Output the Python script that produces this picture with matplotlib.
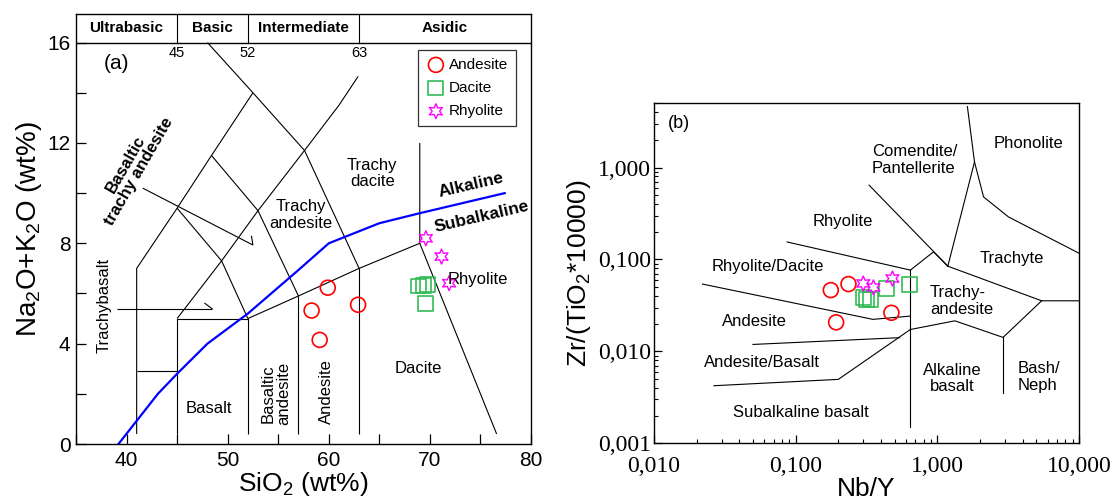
import matplotlib
matplotlib.use("Agg")
import matplotlib.pyplot as plt
from matplotlib.ticker import FixedLocator, FixedFormatter, LogLocator, NullFormatter

# ---------------- data: panel (a) TAS ----------------
andesite_sio2 = [59.9, 58.3, 62.9, 59.1]
andesite_alk = [6.23, 5.32, 5.55, 4.15]
dacite_sio2 = [68.9, 69.35, 69.8, 69.6]
dacite_alk = [6.30, 6.33, 6.37, 5.61]
rhyolite_sio2 = [69.6, 71.15, 71.9]
rhyolite_alk = [8.2, 7.47, 6.41]

tas_lines = [
    [(41, 0.4), (41, 7), (45, 9.4), (48.4, 11.5), (52.5, 14)],
    [(48, 16), (52.5, 14), (57.6, 11.7), (63, 7)],
    [(45, 0.4), (45, 5), (52, 5), (52, 0.4)],
    [(41, 2.9), (45, 2.9)],
    [(52, 5), (57, 5.9), (63, 7), (69, 8)],
    [(57, 0.4), (57, 5.9)],
    [(63, 0.4), (63, 7)],
    [(69, 12), (69, 8), (76.6, 0.4)],
    [(45, 5), (49.4, 7.3), (53, 9.3), (57.6, 11.7), (61, 13.5), (62.9, 14.65)],
    [(45, 9.4), (49.4, 7.3), (52, 5)],
    [(48.4, 11.5), (53, 9.3), (57, 5.9)],
    # arrows
    [(39.1, 5.38), (48.5, 5.38)],
    [(47.7, 5.62), (48.5, 5.38)],
    [(41.6, 10.2), (52.5, 7.93)],
    [(52.35, 8.3), (52.5, 7.93)],
]
alk_line_x = [39.2, 43.1, 45, 48, 52, 56.9, 60, 65, 69, 77.4]
alk_line_y = [0.0, 2.0, 2.8, 4.0, 5.2, 6.9, 8.0, 8.8, 9.2, 10.0]

header_bounds = [45, 52, 63]
header_names = ["Ultrabasic", "Basic", "Intermediate", "Asidic"]
header_name_x = [40.0, 48.5, 57.5, 71.5]

# ---------------- data: panel (b) Winchester & Floyd ----------------
andesite_nby = [0.177, 0.236, 0.474, 0.193]
andesite_zr = [0.0464, 0.054, 0.0263, 0.0207]
dacite_nby = [0.30, 0.315, 0.336, 0.435, 0.637]
dacite_zr = [0.039, 0.0368, 0.037, 0.0484, 0.0535]
rhyolite_nby = [0.30, 0.354, 0.482]
rhyolite_zr = [0.0548, 0.0497, 0.0621]

wf_lines = [
    [(0.0871, 0.155), (0.645, 0.0766)],
    [(0.645, 0.0766), (0.94, 0.121), (1.186, 0.0845)],
    [(0.33, 0.643), (1.186, 0.0845)],
    [(1.186, 0.0845), (1.83, 1.15), (1.63, 4.6)],
    [(1.83, 1.15), (2.12, 0.479), (3.18, 0.29), (10, 0.117)],
    [(1.186, 0.0845), (5.45, 0.0355), (10, 0.0355)],
    [(0.022, 0.054), (0.351, 0.0223), (0.645, 0.0242)],
    [(0.645, 0.0766), (0.645, 0.0015)],
    [(5.45, 0.0355), (2.91, 0.0142), (1.33, 0.0215), (0.645, 0.0173)],
    [(2.91, 0.0142), (2.91, 0.0035)],
    [(0.05, 0.0119), (0.542, 0.0141)],
    [(0.0265, 0.00423), (0.2, 0.00496), (0.645, 0.0173)],
]
b_xticks = [0.01, 0.1, 1, 10]
b_xticklabels = ["0,010", "0,100", "1,000", "10,000"]
b_yticks = [0.001, 0.01, 0.1, 1]
b_yticklabels = ["0,001", "0,010", "0,100", "1,000"]

SANS = ["Liberation Sans", "DejaVu Sans"]
SERIF = ["Liberation Serif", "DejaVu Serif"]
plt.rcParams['font.family'] = SANS
plt.rcParams['mathtext.fontset'] = 'custom'
plt.rcParams['mathtext.rm'] = 'Liberation Sans'
plt.rcParams['mathtext.it'] = 'Liberation Sans:italic'

fig = plt.figure(figsize=(11.2, 5.0), dpi=100)

RED = "#FF0000"
GREEN = "#33BB55"
MAG = "#FF00FF"
star = (6, 1, 0)

# ================= panel (a) =================
ax = fig.add_axes([76 / 1120, 56 / 500, 455 / 1120, 430.5 / 500])
ax.set_xlim(35, 80)
ax.set_ylim(0, 17.16)
for ln in tas_lines:
    xs, ys = zip(*ln)
    ax.plot(xs, ys, color="black", lw=0.8, solid_capstyle="butt")
ax.plot(alk_line_x, alk_line_y, color="#0000FF", lw=1.6)

# header band
ax.axhline(16, color="black", lw=1.0)
for b in header_bounds:
    ax.plot([b, b], [16, 17.16], color="black", lw=0.8)
    ax.text(b, 15.6, str(b), ha="center", va="center", fontsize=10.5)
for nm, hx in zip(header_names, header_name_x):
    ax.text(hx, 16.6, nm, ha="center", va="center", fontsize=11, fontweight="bold")

ax.scatter(andesite_sio2, andesite_alk, s=115, facecolors="none", edgecolors=RED, lw=1.2, marker="o", label="Andesite", zorder=3)
ax.scatter(dacite_sio2, dacite_alk, s=115, facecolors="none", edgecolors=GREEN, lw=1.2, marker="s", label="Dacite", zorder=3)
ax.scatter(rhyolite_sio2, rhyolite_alk, s=115, facecolors="none", edgecolors=MAG, lw=1.0, marker=star, label="Rhyolite", zorder=3)

leg = ax.legend(loc="upper left", bbox_to_anchor=(68.1, 16.0), bbox_transform=ax.transData,
                fontsize=11, frameon=True, fancybox=False, edgecolor="black",
                handletextpad=0.2, borderpad=0.5, labelspacing=0.6, handlelength=1.3)
leg.get_frame().set_linewidth(0.9)

ax.text(37.76, 15.18, "(a)", fontsize=15, ha="left", va="center")
ax.text(40.6, 11.0, "Basaltic\ntrachy andesite", fontsize=12, fontweight="bold", rotation=60,
        ha="center", va="center", multialignment="center", linespacing=1.0)
ax.text(57.24, 9.13, "Trachy\nandesite", fontsize=12, ha="center", va="center", linespacing=1.1)
ax.text(64.3, 10.79, "Trachy\ndacite", fontsize=12, ha="center", va="center", linespacing=1.1)
ax.text(74.06, 10.3, "Alkaline", fontsize=12.5, fontweight="bold", rotation=13, ha="center", va="center")
ax.text(75.1, 9.06, "Subalkaline", fontsize=12.5, fontweight="bold", rotation=13, ha="center", va="center")
ax.text(74.77, 6.56, "Rhyolite", fontsize=12, ha="center", va="center")
ax.text(68.9, 3.02, "Dacite", fontsize=12, ha="center", va="center")
ax.text(59.8, 2.09, "Andesite", fontsize=12, ha="center", va="center", rotation=90)
ax.text(54.76, 2.02, "Basaltic\nandesite", fontsize=12, ha="center", va="center", rotation=90, linespacing=1.0)
ax.text(48.14, 1.42, "Basalt", fontsize=12, ha="center", va="center")
ax.text(37.76, 5.54, "Trachybasalt", fontsize=12, ha="center", va="center", rotation=90)

ax.set_xticks([35, 40, 45, 50, 55, 60, 65, 70, 75, 80])
ax.set_xticklabels(["", "40", "", "50", "", "60", "", "70", "", "80"])
ax.set_yticks([0, 2, 4, 6, 8, 10, 12, 14, 16])
ax.set_yticklabels(["0", "", "4", "", "8", "", "12", "", "16"])
ax.tick_params(direction="in", length=7, width=0.9, labelsize=15, pad=4)
ax.tick_params(axis="x", pad=5)
ax.set_xlabel("SiO$_2$ (wt%)", fontsize=19, labelpad=0)
ax.set_ylabel("Na$_2$O+K$_2$O (wt%)", fontsize=20, labelpad=2)
for sp in ax.spines.values():
    sp.set_linewidth(1.0)

# ================= panel (b) =================
bx = fig.add_axes([654 / 1120, 56.7 / 500, 425 / 1120, 340 / 500])
bx.set_xscale("log")
bx.set_yscale("log")
bx.set_xlim(0.01, 10)
bx.set_ylim(0.001, 5)
for ln in wf_lines:
    xs, ys = zip(*ln)
    bx.plot(xs, ys, color="black", lw=0.8)

bx.scatter(andesite_nby, andesite_zr, s=115, facecolors="none", edgecolors=RED, lw=1.2, marker="o", zorder=3)
bx.scatter(dacite_nby, dacite_zr, s=115, facecolors="none", edgecolors=GREEN, lw=1.2, marker="s", zorder=3)
bx.scatter(rhyolite_nby, rhyolite_zr, s=115, facecolors="none", edgecolors=MAG, lw=1.0, marker=star, zorder=3)

bx.text(0.0125, 3.0, "(b)", fontsize=13, ha="left", va="center")
bx.text(0.344, 1.2, "Comendite/\nPantellerite", fontsize=12, ha="left", va="center", linespacing=1.15)
bx.text(4.37, 1.82, "Phonolite", fontsize=12, ha="center", va="center")
bx.text(0.214, 0.261, "Rhyolite", fontsize=12, ha="center", va="center")
bx.text(3.36, 0.1025, "Trachyte", fontsize=12, ha="center", va="center")
bx.text(0.0632, 0.083, "Rhyolite/Dacite", fontsize=12, ha="center", va="center")
bx.text(0.885, 0.0356, "Trachy-\nandesite", fontsize=12, ha="left", va="center", linespacing=1.15)
bx.text(0.051, 0.0211, "Andesite", fontsize=12, ha="center", va="center")
bx.text(0.058, 0.00766, "Andesite/Basalt", fontsize=12, ha="center", va="center")
bx.text(1.28, 0.00506, "Alkaline\nbasalt", fontsize=12, ha="center", va="center", linespacing=1.15)
bx.text(3.7, 0.00527, "Bash/\nNeph", fontsize=12, ha="left", va="center", linespacing=1.15)
bx.text(0.108, 0.00215, "Subalkaline basalt", fontsize=12, ha="center", va="center")

bx.xaxis.set_major_locator(FixedLocator(b_xticks))
bx.xaxis.set_major_formatter(FixedFormatter(b_xticklabels))
bx.yaxis.set_major_locator(FixedLocator(b_yticks))
bx.yaxis.set_major_formatter(FixedFormatter(b_yticklabels))
bx.xaxis.set_minor_locator(LogLocator(base=10, subs=range(2, 10)))
bx.yaxis.set_minor_locator(LogLocator(base=10, subs=range(2, 10)))
bx.xaxis.set_minor_formatter(NullFormatter())
bx.yaxis.set_minor_formatter(NullFormatter())
bx.tick_params(which="major", direction="in", length=6, width=0.9, labelsize=17, pad=2)
bx.tick_params(axis="x", which="major", pad=9)
bx.tick_params(which="minor", direction="in", length=3, width=0.8)
for lbl in bx.get_xticklabels() + bx.get_yticklabels():
    lbl.set_family(SERIF)
bx.set_xlabel("Nb/Y", fontsize=19, labelpad=0)
bx.set_ylabel("Zr/(TiO$_2$*10000)", fontsize=19, labelpad=4)
for sp in bx.spines.values():
    sp.set_linewidth(1.0)

fig.savefig("out.png", dpi=100)
